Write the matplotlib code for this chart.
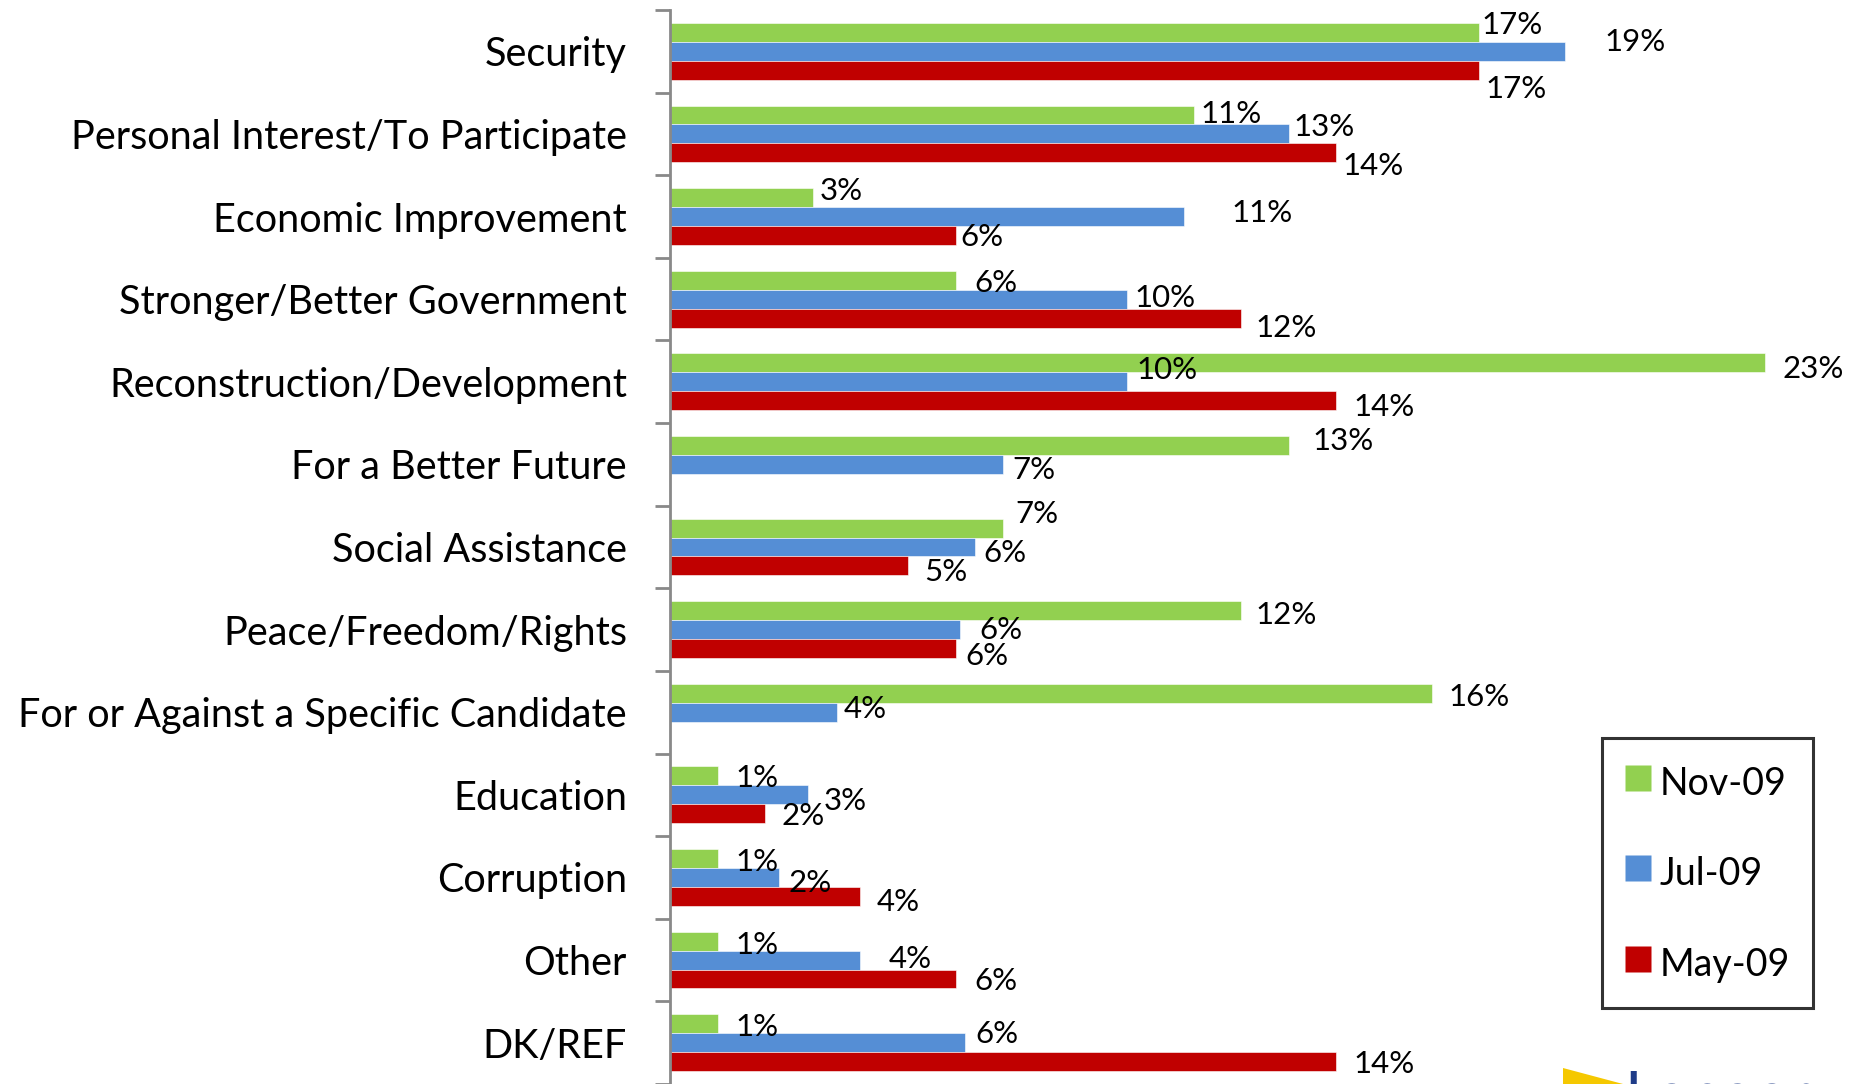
import matplotlib
matplotlib.use("Agg")
import matplotlib.pyplot as plt
import numpy as np
from matplotlib.patches import Polygon
from matplotlib.lines import Line2D

# ---------------- data ----------------
categories = ["Security", "Personal Interest/To Participate", "Economic Improvement",
              "Stronger/Better Government", "Reconstruction/Development",
              "For a Better Future", "Social Assistance", "Peace/Freedom/Rights",
              "For or Against a Specific Candidate", "Education", "Corruption",
              "Other", "DK/REF"]
series_names = ["Nov-09", "Jul-09", "May-09"]
nov09 = [17, 11, 3, 6, 23, 13, 7, 12, 16, 1, 1, 1, 1]
jul09 = [18.8, 13.0, 10.8, 9.6, 9.6, 7.0, 6.4, 6.1, 3.5, 2.9, 2.3, 4.0, 6.2]
may09 = [17, 14, 6, 12, 14, np.nan, 5, 6, np.nan, 2, 4, 6, 14]

# ---------------- label nudges (layout, pixels of a 1568-wide view) ----------------
nov_dx = [2, 6, 6, 16, 15, 20, 10, 12, 14, 15, 15, 15, 15]
nov_dy = [-6, -1, -6, 2, 5, -4, -12, 4, 3, 2, 3, 3, 3]
jul_dx = [33, 4, 40, 6, 8, 8, 7, 16, 6, 13, 8, 24, 9]
jul_dy = [-8, -6, -3, -1, -10, 5, 5, 0, -3, 5, 5, -1, -7]
may_dx = [5, 5, 4, 12, 14, 0, 14, 8, 0, 14, 14, 16, 14]
may_dy = [16, 11, 1, 8, 5, 0, 5, 6, 0, 2, 5, 2, 2]

colors = ["#92D050", "#558ED5", "#C00000"]
FONT = "Lato"
plt.rcParams["font.family"] = [FONT, "DejaVu Sans"]

W, H = 1858, 1084
fig = plt.figure(figsize=(W / 100, H / 100), dpi=100)
ax = fig.add_axes([670 / W, 0, (W - 670) / W, 1074 / H])

y = np.arange(len(categories))
h = 0.229
series = [nov09, jul09, may09]
dxs = [nov_dx, jul_dx, may_dx]
dys = [nov_dy, jul_dy, may_dy]
scale = W / 1568

for k, (vals, col) in enumerate(zip(series, colors)):
    ypos = y + (k - 1) * h
    ax.barh(ypos, vals, height=h, color=col, edgecolor="white", linewidth=0.4,
            label=series_names[k])
    for i, v in enumerate(vals):
        if np.isnan(v):
            continue
        ax.annotate(f"{round(v):d}%", xy=(v, ypos[i]),
                    xytext=(dxs[k][i] * scale, -dys[k][i] * scale),
                    textcoords="offset pixels", ha="left", va="center",
                    fontsize=22.5, color="black")

ax.set_xlim(0, (W - 670) / 47.6)
ax.set_ylim(len(categories) - 0.5, -0.5)
ax.set_yticks(y)
ax.set_yticklabels(categories, fontsize=28.5)
ax.set_yticks(np.arange(-0.5, len(categories) + 0.5, 1), minor=True)
ax.tick_params(axis="y", which="major", length=0, pad=31)
ax.tick_params(axis="y", which="minor", length=11, width=2, color="#898989",
               direction="out")
ax.set_xticks([])
for s in ["top", "right", "bottom"]:
    ax.spines[s].set_visible(False)
ax.spines["left"].set_color("#898989")
ax.spines["left"].set_linewidth(2)

handles = [Line2D([], [], marker="s", markersize=18.5, linestyle="none",
                  markerfacecolor=c, markeredgecolor="none") for c in colors]
leg = fig.legend(handles, series_names, loc="upper left",
                 bbox_to_anchor=(1602 / W, 1 - 738 / H),
                 fontsize=27, frameon=True, fancybox=False,
                 handlelength=0.7, handleheight=1.36, handletextpad=0.22,
                 labelspacing=1.28, borderpad=0.62, borderaxespad=0)
leg.get_frame().set_edgecolor("black")
leg.get_frame().set_linewidth(2.2)

# partial logo at bottom right (cut off by the image edge, as in the source)
tri = Polygon([(1563 / W, 16 / H), (1623 / W, 0), (1563 / W, 0)],
              closed=True, transform=fig.transFigure, facecolor="#F5C800",
              edgecolor="none")
fig.patches.append(tri)
fig.text(1624 / W, -32 / H, "Langer", fontsize=45, color="#1F3C88",
         ha="left", va="baseline")

fig.savefig("out.png", dpi=100)
